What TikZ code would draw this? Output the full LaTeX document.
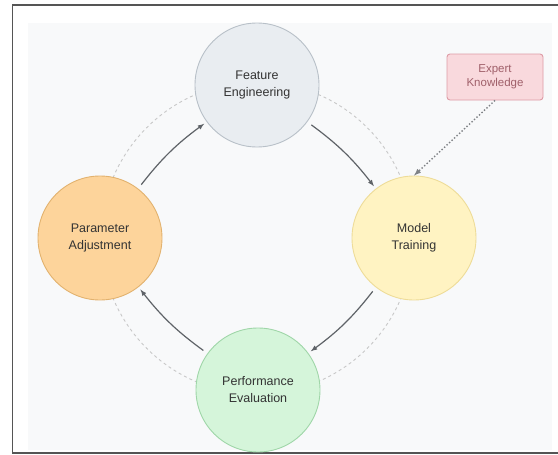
\documentclass[tikz,border=0pt]{standalone}
\usepackage{fontspec}
\setmainfont{Liberation Sans}
\definecolor{bgpanel}{HTML}{F8F9FA}
\definecolor{framegray}{HTML}{555555}
\definecolor{loopgray}{HTML}{5F6368}
\definecolor{ringgray}{HTML}{C8C8C8}
\definecolor{feFill}{HTML}{E9EDF1}
\definecolor{feLine}{HTML}{B8C0C8}
\definecolor{mtFill}{HTML}{FFF3C2}
\definecolor{mtLine}{HTML}{EEDC98}
\definecolor{paFill}{HTML}{FDD49B}
\definecolor{paLine}{HTML}{E2B26E}
\definecolor{peFill}{HTML}{D5F5DA}
\definecolor{peLine}{HTML}{9FD6A8}
\definecolor{ekFill}{HTML}{F9D9DD}
\definecolor{ekLine}{HTML}{DE9CA6}
\definecolor{ekText}{HTML}{A0606A}
\begin{document}
\begin{tikzpicture}[x=1pt,y=-1pt,
    stage/.style={circle, minimum size=124pt, inner sep=0pt, line width=0.9pt,
        align=center, text=black!80, font=\fontsize{12.5}{17}\selectfont},
    loop/.style={-latex, loopgray, line width=1.2pt, shorten <=5pt, shorten >=3pt},
    hint/.style={-latex, loopgray!80, dotted, line width=1.4pt}]
    \useasboundingbox (0,0) rectangle (558,455);
    % frame and panel
    \draw[framegray, line width=1.4pt] (570,5) -- (12.5,5) -- (12.5,453) -- (570,453);
    \fill[bgpanel] (28,23) rectangle (552,450);
    % dashed ring through the four stages
    \coordinate (hub) at (257,238);
    \draw[ringgray, dashed, line width=0.9pt, dash pattern=on 3pt off 3pt] (hub) circle (156);
    % stages
    \node[stage, fill=feFill, draw=feLine] (fe) at (257,85) {Feature\\Engineering};
    \node[stage, fill=mtFill, draw=mtLine] (mt) at (414,238) {Model\\Training};
    \node[stage, fill=peFill, draw=peLine] (pe) at (258,390) {Performance\\Evaluation};
    \node[stage, fill=paFill, draw=paLine] (pa) at (100,238) {Parameter\\Adjustment};
    % expert input
    \node[rectangle, rounded corners=3pt, fill=ekFill, draw=ekLine, line width=0.9pt,
        minimum width=96pt, minimum height=46pt, align=center, text=ekText,
        font=\fontsize{11.5}{14}\selectfont] (ek) at (495,77) {Expert\\Knowledge};
    % cycle
    \draw[loop] (fe) to[bend left=8] (mt);
    \draw[loop] (mt) to[bend left=8] (pe);
    \draw[loop] (pe) to[bend left=8] (pa);
    \draw[loop] (pa) to[bend left=8] (fe);
    \draw[hint] (ek.south) -- (mt.north);
\end{tikzpicture}
\end{document}
